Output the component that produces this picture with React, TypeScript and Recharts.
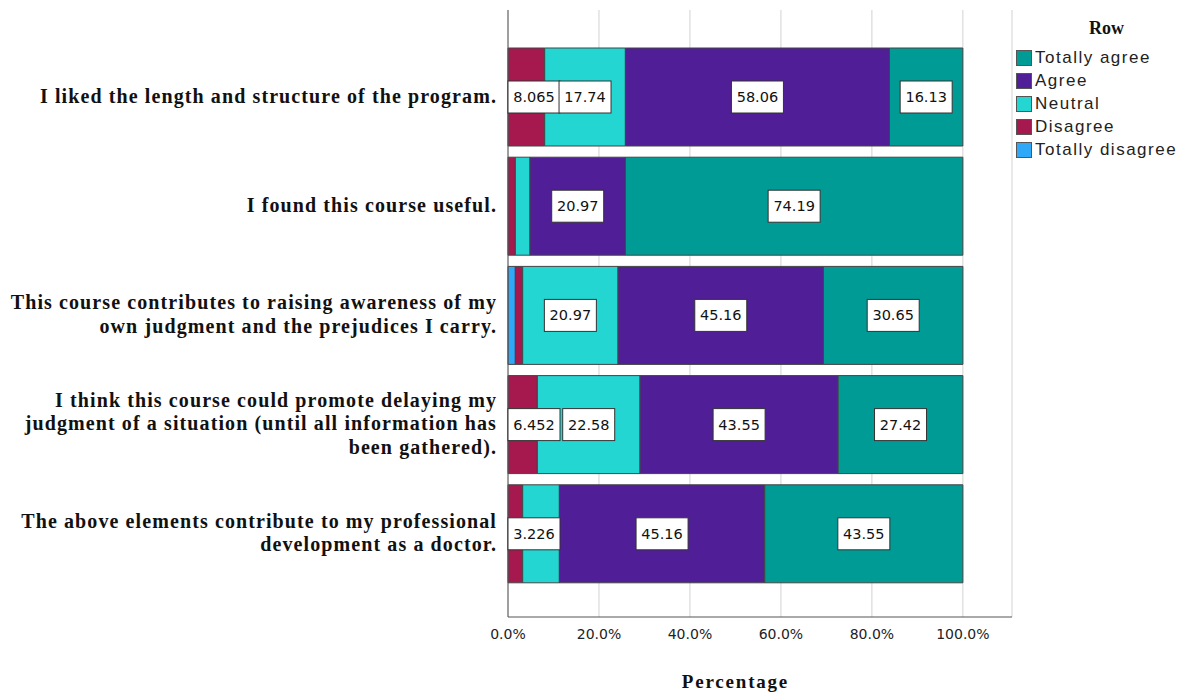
import { Bar, BarChart, CartesianGrid, LabelList, XAxis, YAxis } from "recharts";

// questions (top to bottom), "\n" = line break in the axis label
const questions = [
  "I liked the length and structure of the program.",
  "I found this course useful.",
  "This course contributes to raising awareness of my\nown judgment and the prejudices I carry.",
  "I think this course could promote delaying my\njudgment of a situation (until all information has\nbeen gathered).",
  "The above elements contribute to my professional\ndevelopment as a doctor.",
];

// percentages per answer
const totallyDisagree = [0, 0, 1.613, 0, 0];
const disagree = [8.065, 1.613, 1.613, 6.452, 3.226];
const neutral = [17.74, 3.226, 20.97, 22.58, 8.065];
const agree = [58.06, 20.97, 45.16, 43.55, 45.16];
const totallyAgree = [16.13, 74.19, 30.65, 27.42, 43.55];

// which segments carry a value box
const showTotallyDisagree = [false, false, false, false, false];
const showDisagree = [true, false, false, true, true];
const showNeutral = [true, false, true, true, false];
const showAgree = [true, true, true, true, true];
const showTotallyAgree = [true, true, true, true, true];

const xTicks = [0, 20, 40, 60, 80, 100];
const X_MAX = 110.8;
const Y_AXIS_W = 508;

const series = [
  { key: "totallyDisagree", name: "Totally disagree", color: "#2EA8F7", show: showTotallyDisagree },
  { key: "disagree", name: "Disagree", color: "#A5194F", show: showDisagree },
  { key: "neutral", name: "Neutral", color: "#23D6D2", show: showNeutral },
  { key: "agree", name: "Agree", color: "#501E96", show: showAgree },
  { key: "totallyAgree", name: "Totally agree", color: "#019B95", show: showTotallyAgree },
];

const data = questions.map((q, i) => ({
  q,
  totallyDisagree: totallyDisagree[i],
  disagree: disagree[i],
  neutral: neutral[i],
  agree: agree[i],
  totallyAgree: totallyAgree[i],
}));

const QuestionTick = (props: any) => {
  const { x, y, payload } = props;
  const lines: string[] = String(payload.value).split("\n");
  const lh = 23.5;
  const y0 = y - ((lines.length - 1) * lh) / 2;
  return (
    <g>
      {lines.map((line, i) => (
        <text
          key={i}
          x={x - 3}
          y={y0 + i * lh + 6}
          textAnchor="end"
          fill="#111"
          fontFamily="'Liberation Serif', serif"
          fontWeight="bold"
          fontSize={20}
          letterSpacing={1.1}
        >
          {line}
        </text>
      ))}
    </g>
  );
};

const makeValueBox = (show: boolean[]) => (props: any) => {
  const vb = props.viewBox || props;
  const { index, value } = props;
  if (!show[index] || !value) return null;
  const bw = 52;
  const bh = 32;
  // keep the box inside the plot (left edge of the bars)
  let bx = vb.x + vb.width / 2 - bw / 2;
  if (bx < Y_AXIS_W) bx = Y_AXIS_W;
  const cy = vb.y + vb.height / 2;
  return (
    <g>
      <rect x={bx} y={cy - bh / 2} width={bw} height={bh} fill="#fff" stroke="#333" strokeWidth={1} />
      <text
        x={bx + bw / 2}
        y={cy + 5}
        textAnchor="middle"
        fill="#111"
        fontFamily="'DejaVu Sans', sans-serif"
        fontSize={14.5}
      >
        {Number(value).toPrecision(4)}
      </text>
    </g>
  );
};

const AxisTitle = (props: any) => {
  const vb = props.viewBox;
  const cx = vb.x + (vb.width * 100) / X_MAX / 2;
  return (
    <text
      x={cx}
      y={vb.y + 71}
      textAnchor="middle"
      fill="#111"
      fontFamily="'Liberation Serif', serif"
      fontWeight="bold"
      fontSize={19}
      letterSpacing={1.8}
    >
      Percentage
    </text>
  );
};

const LegendBox = () => (
  <div
    style={{
      position: "absolute",
      left: 1016,
      top: 18,
      fontFamily: "'Liberation Sans', Arial, sans-serif",
      fontSize: 17,
      color: "#222",
    }}
  >
    <div
      style={{
        textAlign: "center",
        fontFamily: "'Liberation Serif', serif",
        fontWeight: "bold",
        fontSize: 18,
        color: "#111",
        marginBottom: 7,
        paddingLeft: 20,
      }}
    >
      Row
    </div>
    {[...series].reverse().map((s) => (
      <div key={s.key} style={{ display: "flex", alignItems: "center", height: 23, letterSpacing: 1.5 }}>
        <span
          style={{
            display: "inline-block",
            width: 14,
            height: 14,
            background: s.color,
            border: "1px solid #555",
            marginRight: 3,
          }}
        />
        {s.name}
      </div>
    ))}
  </div>
);

export default function App() {
  return (
    <div style={{ position: "absolute", left: 0, top: 0, width: 1188, height: 695, background: "#fff" }}>
      <BarChart
        layout="vertical"
        width={1188}
        height={695}
        data={data}
        margin={{ top: 10, right: 176, bottom: 48, left: 0 }}
        barSize={98}
      >
        <CartesianGrid horizontal={false} stroke="#d2d2d2" />
        <XAxis
          type="number"
          domain={[0, X_MAX]}
          ticks={xTicks}
          tickFormatter={(v) => `${v.toFixed(1)}%`}
          axisLine={{ stroke: "#555" }}
          tickLine={false}
          tickMargin={6}
          height={30}
          tick={{ fontSize: 14, fill: "#222", fontFamily: "'DejaVu Sans', sans-serif" }}
          label={<AxisTitle />}
        />
        <YAxis
          type="category"
          dataKey="q"
          width={Y_AXIS_W}
          axisLine={{ stroke: "#555" }}
          tickLine={false}
          interval={0}
          tick={<QuestionTick />}
          padding={{ top: 32, bottom: 29 }}
        />
        {series.map((s) => (
          <Bar
            key={s.key}
            dataKey={s.key}
            name={s.name}
            stackId="a"
            fill={s.color}
            stroke="#444"
            strokeWidth={1}
            isAnimationActive={false}
          >
            <LabelList dataKey={s.key} content={makeValueBox(s.show)} />
          </Bar>
        ))}
      </BarChart>
      <LegendBox />
    </div>
  );
}
